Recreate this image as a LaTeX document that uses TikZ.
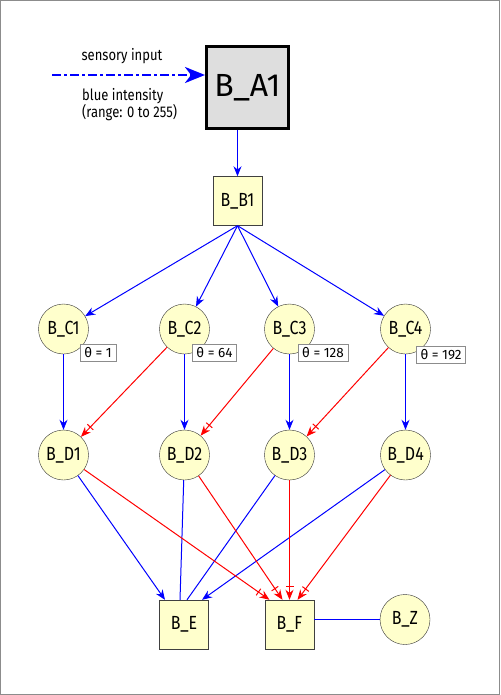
\documentclass[tikz,border=0pt]{standalone}
\usepackage{fontspec}
\setmainfont{Fira Sans}[FakeStretch=0.84]
\newfontfamily\widefont{Fira Sans}
\usetikzlibrary{arrows.meta,positioning}
\definecolor{cellfill}{RGB}{255,255,204}
\definecolor{topfill}{RGB}{222,222,222}

\begin{document}
\begin{tikzpicture}[x=1pt,y=-1pt]
	\tikzstyle{cell} = [circle, draw=black!80, fill=cellfill, minimum size=50pt, 
	inner sep=0pt, font=\fontsize{19}{20}\selectfont]
	\tikzstyle{unit} = [rectangle, draw=black!75, fill=cellfill, minimum size=49pt, 
	inner sep=0pt, font=\fontsize{19}{20}\selectfont]
	\tikzstyle{thr} = [rectangle, draw=black!45, fill=white, inner xsep=4pt, inner ysep=3.5pt, 
	font=\widefont\fontsize{13.5}{15}\selectfont]
	\tikzstyle{excite} = [draw=blue, line width=1pt, -{Stealth[length=10pt,width=8pt]}]
	\tikzstyle{inhibit} = [draw=red, line width=1pt, -{Bar[width=8pt,sep=3pt]Stealth[length=10pt,width=8pt]}]
	\tikzstyle{wire} = [draw=blue, line width=1pt]
	\useasboundingbox (0,0) rectangle (500,695);
	\draw [black!45, line width=0.8pt] (0.5,0.5) rectangle (499.5,694.5);
	% input side
	\node (B_A1) [rectangle, draw=black, line width=3pt, fill=topfill, minimum size=82pt, 
	font=\widefont\fontsize{32}{34}\selectfont] at (247.5,87.5) {B\_A1};
	\coordinate (sens) at (52,75);
	\node (sensTop) [font=\fontsize{15.5}{17}\selectfont] at (122,56) {sensory input};
	\node (sensBot) [anchor=north west, align=left, inner sep=0pt, 
	font=\fontsize{15.5}{17.5}\selectfont] at (82,88) {blue intensity\\(range: 0 to 255)};
	\node (B_B1) [unit] at (237.5,201) {B\_B1};
	% C layer
	\node (B_C1) [cell] at (63.5,329) {B\_C1};
	\node (B_C2) [cell] at (184.5,329) {B\_C2};
	\node (B_C3) [cell] at (289.5,329) {B\_C3};
	\node (B_C4) [cell] at (405.5,329) {B\_C4};
	\node (thC1) [thr] at (98,353) {θ = 1};
	\node (thC2) [thr] at (214.5,352.5) {θ = 64};
	\node (thC3) [thr] at (323,353) {θ = 128};
	\node (thC4) [thr] at (441,354.5) {θ = 192};
	% D layer
	\node (B_D1) [cell] at (63.5,455) {B\_D1};
	\node (B_D2) [cell] at (184.5,455) {B\_D2};
	\node (B_D3) [cell] at (289.5,455) {B\_D3};
	\node (B_D4) [cell] at (405.5,455) {B\_D4};
	% output
	\node (B_E) [unit] at (184,624.5) {B\_E};
	\node (B_F) [unit] at (289.5,624.5) {B\_F};
	\node (B_Z) [cell] at (405,619.5) {B\_Z};
	\draw [blue, line width=2.6pt, dash pattern=on 9pt off 3pt on 3pt off 3pt, 
	-{Stealth[length=20pt,width=16pt,inset=6pt]}] (sens) -- (sens -| B_A1.west);
	\draw [excite] (B_A1.south -| B_B1) -- (B_B1);
	\draw [excite] (B_B1.south) -- (B_C1);
	\draw [excite] (B_B1.south) -- (B_C2);
	\draw [excite] (B_B1.south) -- (B_C3);
	\draw [excite] (B_B1.south) -- (B_C4);
	\draw [excite] (B_C1) -- (B_D1);
	\draw [excite] (B_C2) -- (B_D2);
	\draw [excite] (B_C3) -- (B_D3);
	\draw [excite] (B_C4) -- (B_D4);
	\draw [inhibit] (B_C2) -- (B_D1);
	\draw [inhibit] (B_C3) -- (B_D2);
	\draw [inhibit] (B_C4) -- (B_D3);
	\draw [excite] (B_D1) -- ([xshift=-19pt]B_E.north);
	\draw [wire] (B_D2) -- ([xshift=-4pt]B_E.north);
	\draw [wire] (B_D3) -- ([xshift=3pt]B_E.north);
	\draw [excite] (B_D4) -- ([xshift=18pt]B_E.north);
	\draw [inhibit] (B_D1) -- ([xshift=-20pt]B_F.north);
	\draw [inhibit] (B_D2) -- ([xshift=-7pt]B_F.north);
	\draw [inhibit] (B_D3) -- (B_F.north);
	\draw [inhibit] (B_D4) -- ([xshift=8pt]B_F.north);
	\draw [wire] (B_F.east |- B_Z) -- (B_Z);
	\end{tikzpicture}
\end{document}
